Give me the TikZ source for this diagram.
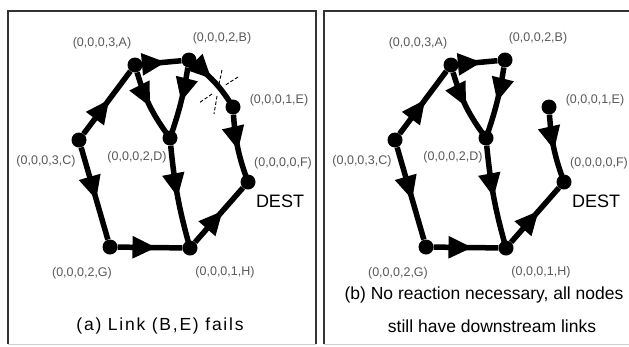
\documentclass[tikz,border=0pt]{standalone}
\usepackage{fontspec}
\setmainfont{Liberation Sans}
\usetikzlibrary{arrows.meta,decorations.markings}
\newcommand\graphpanel[1]{%
  \node[vtx] (A) at (135,65) {};
  \node[vtx] (B) at (189,60) {};
  \node[vtx] (E) at (233,107) {};
  \node[vtx] (F) at (248,182) {};
  \node[vtx] (H) at (190,248) {};
  \node[vtx] (G) at (110,247) {};
  \node[vtx] (C) at (79,140) {};
  \node[vtx] (D) at (170,138) {};
  \draw[lnk,arr=0.55] (C) -- (A);
  \draw[lnk,arr=0.6] (A) -- (B);
  \draw[lnk,arr=0.5] (A) to[bend right=10] (D);
  \draw[lnk,arr=0.48] (B) to[bend left=5] (D);
  #1
  \draw[lnk,arr=0.52] (E) to[bend right=8] (F);
  \draw[lnk,arr=0.5] (D) to[bend right=5] (H);
  \draw[lnk,arr=0.58] (H) -- (F);
  \draw[lnk,arr=0.57] (C) -- (G);
  \draw[lnk,arr=0.6] (G) -- (H);
  \node[lab] (lA) at (102,43) {(0,0,0,3,A)};
  \node[lab] (lB) at (222,38) {(0,0,0,2,B)};
  \node[lab] (lE) at (279,100) {(0,0,0,1,E)};
  \node[lab] (lC) at (46,161) {(0,0,0,3,C)};
  \node[lab] (lD) at (137,157) {(0,0,0,2,D)};
  \node[lab] (lF) at (283,163) {(0,0,0,0,F)};
  \node[dest] (lDEST) at (280,201) {DEST};
  \node[lab] (lG) at (82,273) {(0,0,0,2,G)};
  \node[lab] (lH) at (225,272) {(0,0,0,1,H)};
}
\begin{document}
\begin{tikzpicture}[x=1pt,y=-1pt,
  vtx/.style={circle,fill=black,inner sep=0pt,minimum size=15pt},
  lnk/.style={line width=5.5pt,black},
  arr/.style={postaction={decorate},decoration={markings,
      mark=at position #1 with {\arrow{Triangle[length=24pt,width=21pt]}}}},
  arr/.default=0.5,
  lab/.style={text=black!65,font=\fontsize{12.5}{13}\selectfont,inner sep=0pt},
  dest/.style={text=black,font=\fontsize{18}{18}\selectfont,inner sep=0pt},
  capt/.style={text=black,font=\fontsize{17.5}{18}\selectfont,inner sep=0pt},
  framel/.style={line width=2pt,black!80},
  framebot/.style={line width=1pt,black!20},
  cut/.style={line width=0.9pt,black,dash pattern=on 3.5pt off 2pt}
]
\useasboundingbox (0,0) rectangle (629,346);
\clip (0,0) rectangle (629,346);
\fill[white] (0,0) rectangle (629,346);
% frames
\draw[framebot] (8,344) -- (316,344);
\draw[framel] (8,344) -- (8,11) -- (316,11) -- (316,344);
\draw[framebot] (324,344) -- (640,344);
\draw[framel] (324,344) -- (324,11) -- (640,11);
% left panel
\begin{scope}[name prefix=l-]
  \graphpanel{\draw[lnk,arr=0.38] (B) to[bend left=10] (E);}
  \coordinate (X) at (218,90);
  \draw[cut,shift={(X)}] (4,-20) -- (1,-6) (-1,6) -- (-4,24)
        (20,-13) -- (6,-4) (-6,4) -- (-19,13);
  \node[capt] (cap) at (160,326) {\addfontfeature{LetterSpace=10}(a) Link (B,E) fails};
\end{scope}
% right panel
\begin{scope}[xshift=316pt,name prefix=r-]
  \graphpanel{}
  \node[capt] (cap1) at (168,295) {(b) No reaction necessary, all nodes};
  \node[capt] (cap2) at (176,326) {still have downstream links};
\end{scope}
\end{tikzpicture}
\end{document}
